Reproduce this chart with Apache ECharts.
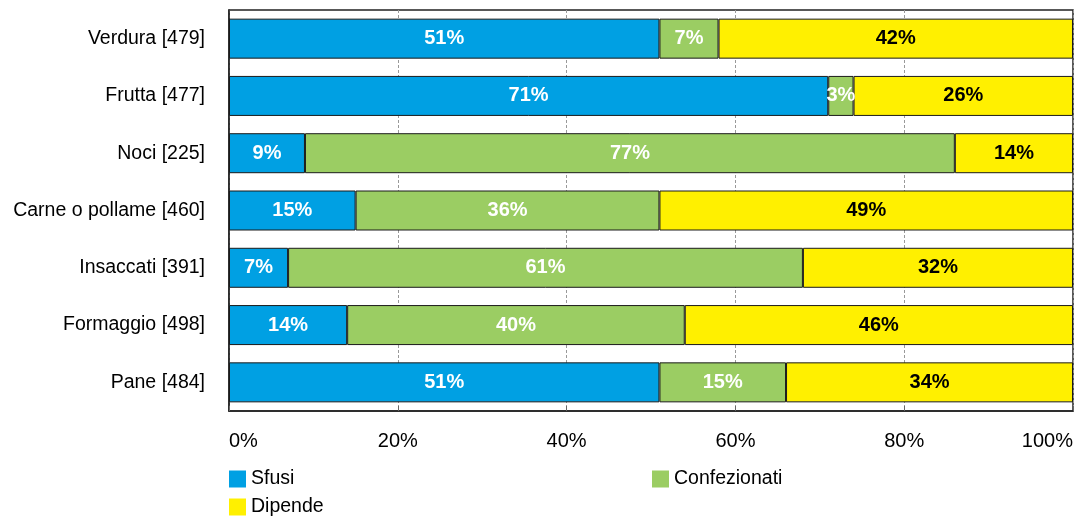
<!DOCTYPE html>
<html>
<head>
<meta charset="utf-8">
<script src="https://cdn.jsdelivr.net/npm/echarts@6/dist/echarts.min.js"></script>
<style>
  html, body { margin: 0; padding: 0; background: #ffffff; }
  #chart { width: 1075px; height: 517px; }
</style>
</head>
<body>
<div id="chart"></div>
<script>
// Product categories with number of respondents
const categories = ['Verdura [479]', 'Frutta [477]', 'Noci [225]', 'Carne o pollame [460]', 'Insaccati [391]', 'Formaggio [498]', 'Pane [484]'];
// Share of answers per category (%)
const sfusi        = [51, 71,  9, 15,  7, 14, 51];
const confezionati = [ 7,  3, 77, 36, 61, 40, 15];
const dipende      = [42, 26, 14, 49, 32, 46, 34];
const xTicks = [0, 20, 40, 60, 80, 100];

const sans = '"Liberation Sans", Arial, sans-serif';

const chart = echarts.init(document.getElementById('chart'), null, { renderer: 'canvas' });

function barSeries(name, data, color, labelColor) {
  return {
    name: name,
    type: 'bar',
    stack: 'total',
    data: data,
    barWidth: 40,
    itemStyle: { color: color, borderColor: '#1a1a1a', borderWidth: 1 },
    label: {
      show: true,
      position: 'inside',
      formatter: p => p.value + '%',
      color: labelColor,
      fontFamily: sans,
      fontWeight: 'bold',
      fontSize: 20
    }
  };
}

function legendItem(name, left, top) {
  return {
    left: left, top: top,
    itemWidth: 17, itemHeight: 17,
    icon: 'rect',
    itemStyle: { borderWidth: 0 },
    data: [name],
    textStyle: { color: '#000', fontFamily: sans, fontSize: 19.5, padding: [0, 0, 0, 0] }
  };
}

chart.setOption({
  animation: false,
  grid: {
    left: 229, right: 2, top: 10, bottom: 106,
    outerBoundsMode: 'none', containLabel: false,
    show: true, borderColor: '#222', borderWidth: 1.5
  },
  xAxis: {
    type: 'value',
    min: 0, max: 100, interval: 20,
    axisLine: { show: true, lineStyle: { color: '#222', width: 1.5 } },
    axisTick: { show: true, inside: true, length: 5, lineStyle: { color: '#666' } },
    splitLine: { show: true, lineStyle: { color: '#999', type: [3, 2], width: 1 } },
    axisLabel: {
      margin: 20,
      color: '#000',
      fontFamily: sans,
      fontSize: 20,
      alignMinLabel: 'left',
      alignMaxLabel: 'right',
      formatter: v => xTicks.includes(v) ? v + '%' : ''
    }
  },
  yAxis: {
    type: 'category',
    inverse: true,
    data: categories,
    axisLine: { show: true, lineStyle: { color: '#222', width: 1.5 } },
    axisTick: { show: false },
    axisLabel: { margin: 24, color: '#000', fontFamily: sans, fontSize: 19.5 }
  },
  legend: [
    legendItem('Sfusi', 224, 464),
    legendItem('Dipende', 224, 492),
    legendItem('Confezionati', 647, 464)
  ],
  series: [
    barSeries('Sfusi', sfusi, '#00A0E3', '#ffffff'),
    barSeries('Confezionati', confezionati, '#9BCD63', '#ffffff'),
    barSeries('Dipende', dipende, '#FFF000', '#000000')
  ]
});
</script>
</body>
</html>
